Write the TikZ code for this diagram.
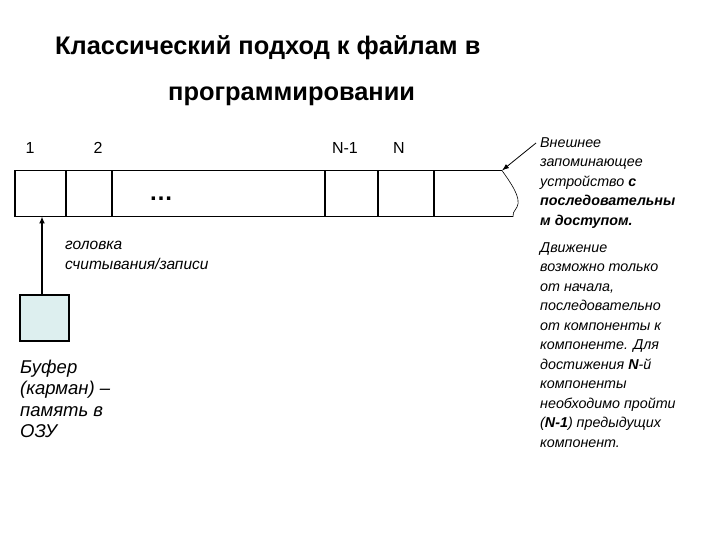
\documentclass[tikz,border=0pt]{standalone}
\usepackage{fontspec}
\setmainfont{Liberation Sans}
\usetikzlibrary{arrows.meta,positioning,calc}
\definecolor{tpInk}{HTML}{000000}
\definecolor{tpBuf}{HTML}{DDEFEF}
\tikzset{
  cell/.style={draw=tpInk, line width=1.4pt, minimum height=46pt, inner sep=0pt, outer sep=0pt},
  bufbox/.style={draw=tpInk, line width=1.4pt, fill=tpBuf, minimum width=49pt, minimum height=46pt, inner sep=0pt},
  arr/.style={-{Latex[length=7pt,width=6pt]}, line width=2.2pt, draw=tpInk},
  ptr/.style={-{Latex[length=7pt,width=5pt]}, line width=0.8pt, draw=tpInk},
  num/.style={font=\fontsize{16}{18}\selectfont, anchor=base},
  note/.style={font=\fontsize{14.3}{19.5}\selectfont\itshape, align=left, anchor=north west, inner sep=0pt},
  ttl/.style={font=\fontsize{25.4}{30}\selectfont\bfseries, anchor=base west, inner sep=0pt},
}
\begin{document}
\begin{tikzpicture}[x=1pt,y=-1pt]
  \useasboundingbox (0,0) rectangle (720,540);
  % title
  \node[ttl] (t1) at (55,55) {Классический подход к файлам в};
  \node[ttl] (t2) at (168,101) {программировании};
  % tape
  \node[cell, minimum width=51pt] (c1) at (40.5,193.5) {};
  \node[cell, minimum width=46pt, right=0pt of c1] (c2) {};
  \node[cell, minimum width=213pt, right=0pt of c2] (cd) {};
  \node[cell, minimum width=53pt, right=0pt of cd] (cn1) {};
  \node[cell, minimum width=56pt, right=0pt of cn1] (cn) {};
  \node[font=\fontsize{24}{24}\selectfont\bfseries] (dots) at (161,199) {\dots};
  % open end of the tape
  \coordinate (tapeend) at (502,170.5);
  \draw[line width=0.6pt] (cn.north east) -- (tapeend)
    .. controls (510,182) and (522,198) .. (517,207)
    .. controls (514,212) and (512,214) .. (513,216.5) -- (cn.south east);
  % numbers
  \node[num] (n1) at (30,154) {1};
  \node[num] (n2) at (98,154) {2};
  \node[num] (nn1) at (345,154) {N-1};
  \node[num] (nn) at (399,154) {N};
  % buffer and head
  \node[bufbox] (buf) at (44.5,318) {};
  \draw[arr] (buf.north -| 42,0) -- (c1.south -| 42,0);
  \node[note, font=\fontsize{15.5}{20}\selectfont\itshape] (head) at (65,241) {головка\\считывания/записи};
  \node[note, font=\fontsize{18.5}{21.3}\selectfont\itshape] (buftxt) at (20,360) {Буфер\\(карман) --\\память в\\ОЗУ};
  % notes
  \node[note] (ext) at (540,137) {Внешнее\\запоминающее\\устройство \textbf{с}\\\textbf{последовательны}\\\textbf{м доступом.}};
  \draw[ptr] ([xshift=-4pt,yshift=-6pt]ext.north west) -- (tapeend);
  \node[note] (mov) at (540,242) {Движение\\возможно только\\от начала,\\последовательно\\от компоненты к\\компоненте. Для\\достижения \textbf{N}-й\\компоненты\\необходимо пройти\\(\textbf{N-1}) предыдущих\\компонент.};
\end{tikzpicture}
\end{document}
